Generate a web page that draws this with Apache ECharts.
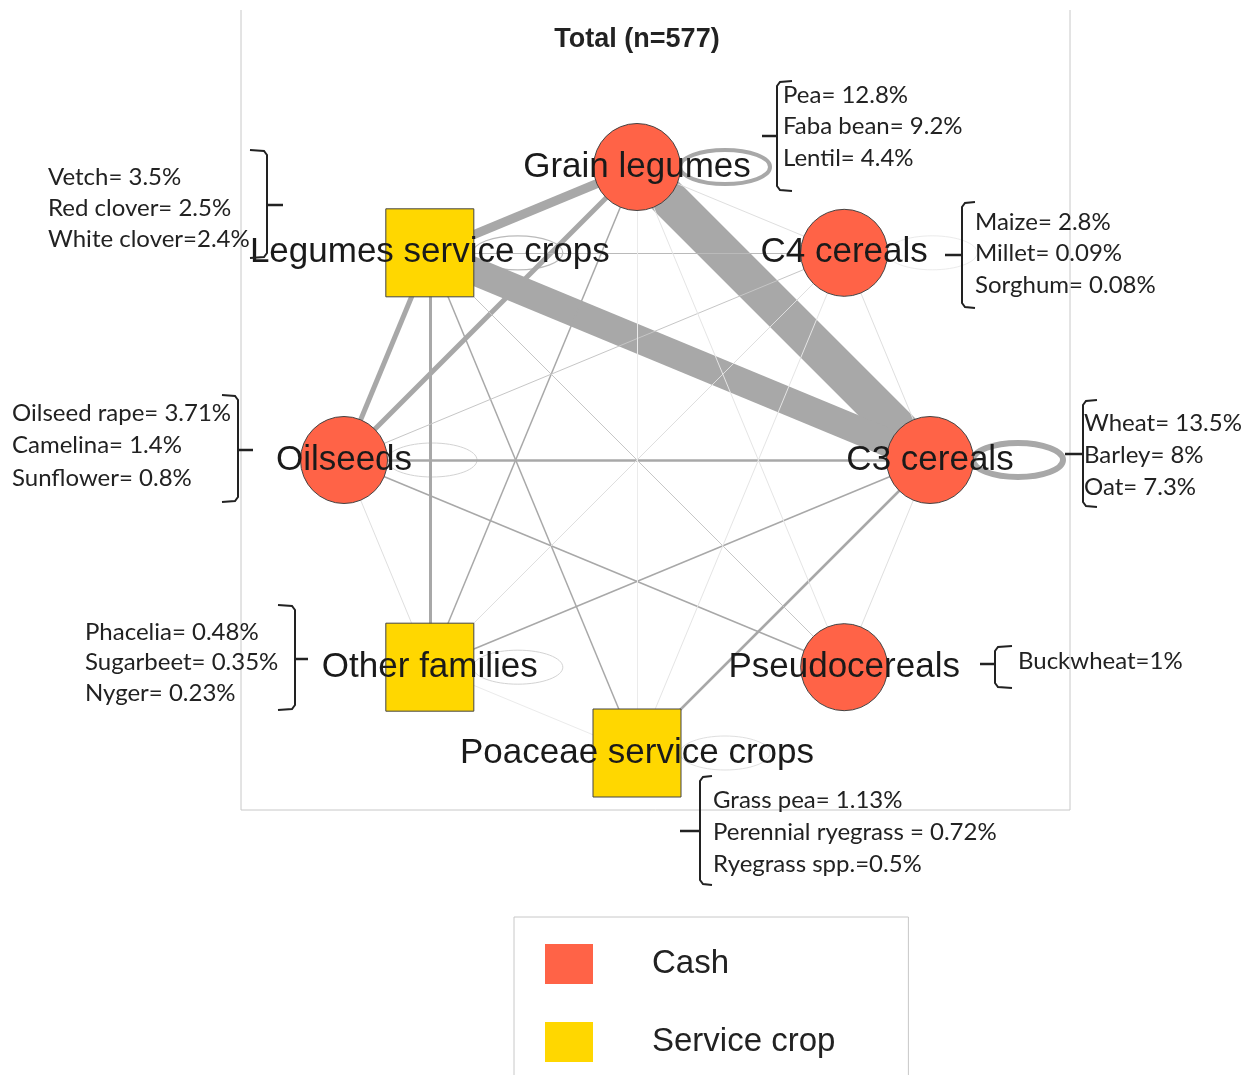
<!DOCTYPE html>
<html>
<head>
<meta charset="utf-8">
<title>Total (n=577)</title>
<script src="https://cdn.jsdelivr.net/npm/echarts@6/dist/echarts.min.js"></script>
<style>
  html, body { margin: 0; padding: 0; background: #fff; }
  #chart { width: 1260px; height: 1075px; }
</style>
</head>
<body>
<div id="chart"></div>
<script>
// nodes go round the circle clockwise, starting at the top
const nodeNames = ['Grain legumes', 'C4 cereals', 'C3 cereals', 'Pseudocereals',
  'Poaceae service crops', 'Other families', 'Oilseeds', 'Legumes service crops'];
const nodeTypes = ['Cash', 'Cash', 'Cash', 'Cash', 'Service crop', 'Service crop', 'Cash', 'Service crop'];
const cropTypes = ['Cash', 'Service crop'];
const typeColors = ['#FF6347', '#FFD700'];

// links between groups (weight ~ line width)
const edgeSources = ['Grain legumes', 'Legumes service crops', 'Legumes service crops', 'Oilseeds',
  'Legumes service crops', 'Legumes service crops', 'Oilseeds', 'C3 cereals',
  'Legumes service crops', 'Grain legumes', 'C3 cereals', 'Oilseeds',
  'Legumes service crops', 'Legumes service crops', 'Oilseeds', 'C4 cereals',
  'Grain legumes', 'C4 cereals', 'C3 cereals', 'Oilseeds',
  'Grain legumes', 'C4 cereals', 'Grain legumes', 'Other families'];
const edgeTargets = ['C3 cereals', 'C3 cereals', 'Grain legumes', 'Grain legumes',
  'Oilseeds', 'Other families', 'C3 cereals', 'Poaceae service crops',
  'Poaceae service crops', 'Other families', 'Other families', 'Pseudocereals',
  'C4 cereals', 'Pseudocereals', 'C4 cereals', 'Other families',
  'C4 cereals', 'C3 cereals', 'Pseudocereals', 'Other families',
  'Pseudocereals', 'Poaceae service crops', 'Poaceae service crops', 'Poaceae service crops'];
const edgeWeights = [38, 28, 9, 5,
  5, 3, 2.5, 2.5,
  1.5, 1.5, 1.5, 1.5,
  1.2, 1.0, 1.0, 0.6,
  0.6, 0.6, 0.6, 0.6,
  0.5, 0.5, 0.4, 0.4];

// self loops (within-group successions)
const loopNodes = ['Grain legumes', 'C3 cereals', 'Legumes service crops', 'Oilseeds',
  'Other families', 'Poaceae service crops', 'C4 cereals'];
const loopWeights = [4, 6, 1.2, 0.8, 0.8, 0.6, 0.4];

// species shares written beside each group
const grainLegumeSpecies = ['Pea= 12.8%', 'Faba bean= 9.2%', 'Lentil= 4.4%'];
const c4Species = ['Maize= 2.8%', 'Millet= 0.09%', 'Sorghum= 0.08%'];
const c3Species = ['Wheat= 13.5%', 'Barley= 8%', 'Oat= 7.3%'];
const pseudoSpecies = ['Buckwheat=1%'];
const poaceaeSpecies = ['Grass pea= 1.13%', 'Perennial ryegrass = 0.72%', 'Ryegrass spp.=0.5%'];
const legumeServiceSpecies = ['Vetch= 3.5%', 'Red clover= 2.5%', 'White clover=2.4%'];
const oilseedSpecies = ['Oilseed rape= 3.71%', 'Camelina= 1.4%', 'Sunflower= 0.8%'];
const otherSpecies = ['Phacelia= 0.48%', 'Sugarbeet= 0.35%', 'Nyger= 0.23%'];

const titleText = 'Total (n=577)';

// where the species notes and their brackets sit
const notes = [
  { lines: grainLegumeSpecies, tx: 783, ty: 95, lh: 31.5, bx: 777, top: 81, bottom: 191, dir: 1, hook: 15, tickX: 762, tickY: 136 },
  { lines: c4Species, tx: 975, ty: 222, lh: 31.5, bx: 962, top: 202, bottom: 308, dir: 1, hook: 13, tickX: 945, tickY: 255 },
  { lines: c3Species, tx: 1084, ty: 423, lh: 32, bx: 1083, top: 400, bottom: 507, dir: 1, hook: 14, tickX: 1065, tickY: 454 },
  { lines: pseudoSpecies, tx: 1018, ty: 661, lh: 32, bx: 995, top: 646, bottom: 688, dir: 1, hook: 17, tickX: 980, tickY: 664 },
  { lines: poaceaeSpecies, tx: 713, ty: 800, lh: 32, bx: 700, top: 776, bottom: 885, dir: 1, hook: 12, tickX: 680, tickY: 831 },
  { lines: legumeServiceSpecies, tx: 48, ty: 177, lh: 31, bx: 267, top: 150, bottom: 258, dir: -1, hook: 17, tickX: 283, tickY: 205 },
  { lines: oilseedSpecies, tx: 12, ty: 413, lh: 32.5, bx: 238, top: 395, bottom: 502, dir: -1, hook: 16, tickX: 253, tickY: 450 },
  { lines: otherSpecies, tx: 85, ty: 632, lh: 30.5, bx: 295, top: 605, bottom: 710, dir: -1, hook: 17, tickX: 308, tickY: 659 }
];

// circular layout: node i at 90 - 45*i degrees
const nodeX = {};
const nodeY = {};
nodeNames.forEach((n, i) => {
  const a = (90 - 45 * i) * Math.PI / 180;
  nodeX[n] = Math.cos(a);
  nodeY[n] = Math.sin(a);
});

function edgeGray(w) {
  const t = Math.min(1, Math.max(0, (1.5 - w) / 1.1));
  const g = Math.round(168 + t * 67);
  return 'rgb(' + g + ',' + g + ',' + g + ')';
}
function edgeWidth(w) {
  return Math.max(1, w);
}

const nodes = nodeNames.map((n, i) => {
  const cat = cropTypes.indexOf(nodeTypes[i]);
  return {
    name: n,
    value: [nodeX[n], nodeY[n]],
    category: cat,
    symbol: cat === 0 ? 'circle' : 'rect',
    symbolSize: cat === 0 ? 87 : 88
  };
});

const links = edgeSources.map((s, i) => ({
  source: s,
  target: edgeTargets[i],
  lineStyle: { width: edgeWidth(edgeWeights[i]), color: edgeGray(edgeWeights[i]) }
}));

const loopData = loopNodes.map((n, i) => [nodeX[n], nodeY[n], loopWeights[i]]);

// frame, brackets + text
const graphics = [
  {
    type: 'polyline', z: 0, silent: true,
    shape: { points: [[241, 10], [241, 810], [1070, 810], [1070, 10]] },
    style: { stroke: '#c8c8c8', lineWidth: 1, fill: null }
  }
];
notes.forEach(nt => {
  const d = nt.dir;
  graphics.push({
    type: 'polyline', z: 10, silent: true,
    shape: {
      points: [
        [nt.bx + d * nt.hook, nt.top], [nt.bx + d * 3, nt.top + 1], [nt.bx, nt.top + 5],
        [nt.bx, nt.bottom - 5], [nt.bx + d * 3, nt.bottom - 1], [nt.bx + d * nt.hook, nt.bottom]
      ]
    },
    style: { stroke: '#222', lineWidth: 2, fill: null }
  });
  graphics.push({
    type: 'line', z: 10, silent: true,
    shape: { x1: nt.bx, y1: nt.tickY, x2: nt.tickX, y2: nt.tickY },
    style: { stroke: '#222', lineWidth: 2.5 }
  });
  graphics.push({
    type: 'text', z: 10, silent: true,
    x: nt.tx, y: nt.ty - nt.lh / 2,
    style: {
      text: nt.lines.join('\n'),
      fontFamily: 'Lato', fontSize: 24, fill: '#222',
      lineHeight: nt.lh, align: 'left', verticalAlign: 'top'
    }
  });
});

const chart = echarts.init(document.getElementById('chart'));
chart.setOption({
  animation: false,
  backgroundColor: '#fff',
  title: {
    text: titleText,
    left: 637, top: 26, textAlign: 'center', padding: 0,
    textStyle: { fontFamily: 'Liberation Sans', fontSize: 27, fontWeight: 'bold', color: '#222' }
  },
  grid: { left: 344, top: 167, width: 586, height: 586 },
  xAxis: { type: 'value', min: -1, max: 1, show: false },
  yAxis: { type: 'value', min: -1, max: 1, show: false },
  legend: {
    data: cropTypes,
    orient: 'vertical',
    left: 514, top: 917, height: 150,
    padding: [27, 73, 25, 31],
    borderColor: '#c8c8c8', borderWidth: 1,
    itemWidth: 48, itemHeight: 40, itemGap: 38,
    icon: 'rect',
    itemStyle: { borderWidth: 0 },
    selectedMode: false,
    textStyle: { fontFamily: 'Liberation Sans', fontSize: 33, color: '#222', lineHeight: 40, padding: [0, 0, 0, 54] }
  },
  graphic: graphics,
  series: [
    {
      type: 'custom',
      coordinateSystem: 'cartesian2d',
      z: 1, silent: true, clip: false,
      data: loopData,
      renderItem: (params, api) => {
        const p = api.coord([api.value(0), api.value(1)]);
        const w = api.value(2);
        return {
          type: 'ellipse',
          shape: { cx: p[0] + 88, cy: p[1], rx: 45, ry: 17 },
          style: { fill: 'none', stroke: edgeGray(w), lineWidth: edgeWidth(w) }
        };
      }
    },
    {
      type: 'graph',
      coordinateSystem: 'cartesian2d',
      z: 3, silent: true,
      data: nodes,
      links: links,
      categories: cropTypes.map((c, i) => ({
        name: c,
        itemStyle: { color: typeColors[i], borderColor: '#444', borderWidth: 1 }
      })),
      label: { show: true, position: 'inside', fontFamily: 'Liberation Sans', fontSize: 35, color: '#1a1a1a' },
      lineStyle: { curveness: 0, opacity: 1 },
      emphasis: { disabled: true }
    }
  ]
});
</script>
</body>
</html>
